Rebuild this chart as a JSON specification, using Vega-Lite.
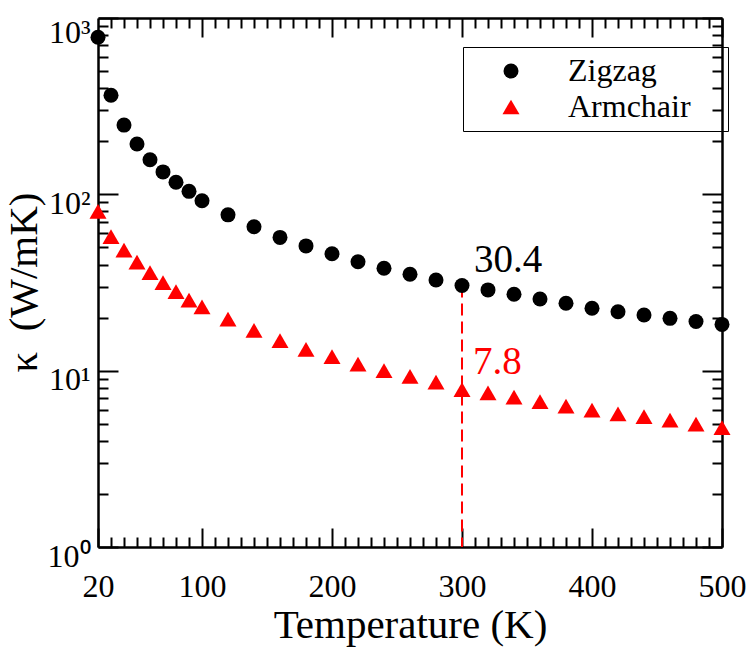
{
  "$schema": "https://vega.github.io/schema/vega-lite/v6.json",
  "width": 624,
  "height": 529,
  "autosize": "none",
  "padding": {"left": 98, "top": 18, "right": 26, "bottom": 107},
  "config": {
    "view": {"stroke": null},
    "font": "Liberation Serif",
    "axis": {
      "grid": false,
      "domainColor": "black",
      "tickColor": "black",
      "labelColor": "black",
      "titleColor": "black",
      "labelFont": "Liberation Serif",
      "titleFont": "Liberation Serif",
      "titleFontWeight": "normal",
      "labelFontSize": 32,
      "titleFontSize": 41,
      "tickWidth": 2,
      "domainWidth": 2.5,
      "labelFlush": false,
      "labelOverlap": false
    }
  },
  "datasets": {
    "main": [
      {"T": 20, "k": 778, "series": "Zigzag"},
      {"T": 30, "k": 365, "series": "Zigzag"},
      {"T": 40, "k": 247, "series": "Zigzag"},
      {"T": 50, "k": 193, "series": "Zigzag"},
      {"T": 60, "k": 157, "series": "Zigzag"},
      {"T": 70, "k": 134, "series": "Zigzag"},
      {"T": 80, "k": 117, "series": "Zigzag"},
      {"T": 90, "k": 104, "series": "Zigzag"},
      {"T": 100, "k": 92, "series": "Zigzag"},
      {"T": 120, "k": 76.5, "series": "Zigzag"},
      {"T": 140, "k": 65.5, "series": "Zigzag"},
      {"T": 160, "k": 57, "series": "Zigzag"},
      {"T": 180, "k": 51, "series": "Zigzag"},
      {"T": 200, "k": 46, "series": "Zigzag"},
      {"T": 220, "k": 41.5, "series": "Zigzag"},
      {"T": 240, "k": 38.1, "series": "Zigzag"},
      {"T": 260, "k": 35.2, "series": "Zigzag"},
      {"T": 280, "k": 32.7, "series": "Zigzag"},
      {"T": 300, "k": 30.4, "series": "Zigzag"},
      {"T": 320, "k": 28.7, "series": "Zigzag"},
      {"T": 340, "k": 27.1, "series": "Zigzag"},
      {"T": 360, "k": 25.5, "series": "Zigzag"},
      {"T": 380, "k": 24.1, "series": "Zigzag"},
      {"T": 400, "k": 22.6, "series": "Zigzag"},
      {"T": 420, "k": 21.6, "series": "Zigzag"},
      {"T": 440, "k": 20.7, "series": "Zigzag"},
      {"T": 460, "k": 19.8, "series": "Zigzag"},
      {"T": 480, "k": 19.0, "series": "Zigzag"},
      {"T": 500, "k": 18.3, "series": "Zigzag"},
      {"T": 20, "k": 80, "series": "Armchair"},
      {"T": 30, "k": 57.6, "series": "Armchair"},
      {"T": 40, "k": 48.3, "series": "Armchair"},
      {"T": 50, "k": 41.3, "series": "Armchair"},
      {"T": 60, "k": 36, "series": "Armchair"},
      {"T": 70, "k": 31.6, "series": "Armchair"},
      {"T": 80, "k": 28.1, "series": "Armchair"},
      {"T": 90, "k": 25.1, "series": "Armchair"},
      {"T": 100, "k": 23.0, "series": "Armchair"},
      {"T": 120, "k": 19.6, "series": "Armchair"},
      {"T": 140, "k": 16.9, "series": "Armchair"},
      {"T": 160, "k": 14.8, "series": "Armchair"},
      {"T": 180, "k": 13.2, "series": "Armchair"},
      {"T": 200, "k": 12.0, "series": "Armchair"},
      {"T": 220, "k": 10.9, "series": "Armchair"},
      {"T": 240, "k": 10.0, "series": "Armchair"},
      {"T": 260, "k": 9.27, "series": "Armchair"},
      {"T": 280, "k": 8.6, "series": "Armchair"},
      {"T": 300, "k": 7.8, "series": "Armchair"},
      {"T": 320, "k": 7.48, "series": "Armchair"},
      {"T": 340, "k": 7.07, "series": "Armchair"},
      {"T": 360, "k": 6.67, "series": "Armchair"},
      {"T": 380, "k": 6.3, "series": "Armchair"},
      {"T": 400, "k": 5.98, "series": "Armchair"},
      {"T": 420, "k": 5.68, "series": "Armchair"},
      {"T": 440, "k": 5.48, "series": "Armchair"},
      {"T": 460, "k": 5.25, "series": "Armchair"},
      {"T": 480, "k": 4.98, "series": "Armchair"},
      {"T": 500, "k": 4.75, "series": "Armchair"}
    ]
  },
  "layer": [
    {
      "data": {"values": [{"T": 300, "k": 30.4, "k2": 1}]},
      "mark": {"type": "rule", "color": "red", "strokeWidth": 2, "strokeDash": [12, 6]},
      "encoding": {
        "x": {"field": "T", "type": "quantitative", "scale": {"domain": [20, 500], "nice": false, "zero": false},
          "axis": {"orient": "bottom", "values": [30,40,50,60,70,80,90,110,120,130,140,150,160,170,180,190,210,220,230,240,250,260,270,280,290,310,320,330,340,350,360,370,380,390,410,420,430,440,450,460,470,480,490], "tickSize": -10, "labels": false, "domain": false, "title": null}},
        "y": {"field": "k", "type": "quantitative", "scale": {"type": "log", "domain": [1, 1000], "nice": false},
          "axis": {"orient": "left", "values": [2,3,4,5,6,7,8,9,20,30,40,50,60,70,80,90,200,300,400,500,600,700,800,900], "tickSize": -10, "labels": false, "domain": false, "title": null}},
        "y2": {"field": "k2"}
      }
    },
    {
      "data": {"name": "main"},
      "mark": {"type": "point", "filled": true, "opacity": 1},
      "encoding": {
        "x": {"field": "T", "type": "quantitative", "scale": {"domain": [20, 500], "nice": false, "zero": false},
          "axis": {"orient": "bottom", "values": [20, 100, 200, 300, 400, 500], "tickSize": -19, "labelPadding": 43, "labelFont": "Liberation Serif", "titleFont": "Liberation Serif", "title": "Temperature (K)", "titleX": 312, "titleY": 90, "titleBaseline": "alphabetic", "titleAlign": "center"}},
        "y": {"field": "k", "type": "quantitative", "scale": {"type": "log", "domain": [1, 1000], "nice": false},
          "axis": {"orient": "left", "values": [1, 10, 100, 1000], "tickSize": -20, "labelPadding": 28, "labelFont": "Liberation Serif", "titleFont": "Liberation Serif",
            "labelOffset": {"condition": {"test": "datum.value == 1000", "value": 14}, "value": 9},
            "labelBaseline": "middle",
            "labelExpr": "datum.value == 1 ? '10⁰' : datum.value == 10 ? '10¹' : datum.value == 100 ? '10²' : '10³'",
            "title": "κ\u00a0\u00a0(W/mK)", "titleAngle": -90, "titleX": -62, "titleY": 264, "titleBaseline": "alphabetic", "titleAlign": "center"}},
        "color": {"field": "series", "type": "nominal",
          "scale": {"domain": ["Zigzag", "Armchair"], "range": ["black", "red"]},
          "legend": {"title": null, "orient": "none", "legendX": 365, "legendY": 29, "strokeColor": "black", "padding": 8, "symbolOffset": 24, "labelOffset": 41, "rowPadding": 4, "labelFont": "Liberation Serif", "labelFontSize": 32, "labelColor": "black", "labelExpr": "datum.label + '\uffa0'", "encode": {"legend": {"update": {"strokeWidth": {"value": 1.5}}}}}},
        "shape": {"field": "series", "type": "nominal",
          "scale": {"domain": ["Zigzag", "Armchair"], "range": ["circle", "triangle-up"]},
          "legend": {"title": null, "orient": "none", "legendX": 365, "legendY": 29, "strokeColor": "black", "padding": 8, "symbolOffset": 24, "labelOffset": 41, "rowPadding": 4, "labelFont": "Liberation Serif", "labelFontSize": 32, "labelColor": "black", "labelExpr": "datum.label + '\uffa0'", "encode": {"legend": {"update": {"strokeWidth": {"value": 1.5}}}}}},
        "size": {"field": "series", "type": "nominal",
          "scale": {"domain": ["Zigzag", "Armchair"], "range": [225, 290]},
          "legend": {"title": null, "orient": "none", "legendX": 365, "legendY": 29, "strokeColor": "black", "padding": 8, "symbolOffset": 24, "labelOffset": 41, "rowPadding": 4, "labelFont": "Liberation Serif", "labelFontSize": 32, "labelColor": "black", "labelExpr": "datum.label + '\uffa0'", "encode": {"legend": {"update": {"strokeWidth": {"value": 1.5}}}}}}
      }
    },
    {
      "data": {"values": [{"T": 300, "k": 30.4, "lbl": "30.4"}]},
      "mark": {"type": "text", "align": "left", "baseline": "alphabetic", "dx": 12, "dy": -14, "fontSize": 39, "font": "Liberation Serif", "color": "black"},
      "encoding": {
        "x": {"field": "T", "type": "quantitative", "scale": {"domain": [20, 500], "nice": false, "zero": false},
          "axis": {"orient": "top", "values": [100, 200, 300, 400, 500], "tickSize": -19, "labels": false, "domain": true, "title": null}},
        "y": {"field": "k", "type": "quantitative", "scale": {"type": "log", "domain": [1, 1000], "nice": false},
          "axis": {"orient": "right", "values": [1, 10, 100, 1000], "tickSize": -20, "labels": false, "domain": true, "title": null}},
        "text": {"field": "lbl"}
      }
    },
    {
      "data": {"values": [{"T": 300, "k": 7.8, "lbl": "7.8"}]},
      "mark": {"type": "text", "align": "left", "baseline": "alphabetic", "dx": 11, "dy": -16, "fontSize": 39, "font": "Liberation Serif", "color": "red"},
      "encoding": {
        "x": {"field": "T", "type": "quantitative", "scale": {"domain": [20, 500], "nice": false, "zero": false},
          "axis": {"orient": "top", "values": [30,40,50,60,70,80,90,110,120,130,140,150,160,170,180,190,210,220,230,240,250,260,270,280,290,310,320,330,340,350,360,370,380,390,410,420,430,440,450,460,470,480,490], "tickSize": -10, "labels": false, "domain": false, "title": null}},
        "y": {"field": "k", "type": "quantitative", "scale": {"type": "log", "domain": [1, 1000], "nice": false},
          "axis": {"orient": "right", "values": [2,3,4,5,6,7,8,9,20,30,40,50,60,70,80,90,200,300,400,500,600,700,800,900], "tickSize": -10, "labels": false, "domain": false, "title": null}},
        "text": {"field": "lbl"}
      }
    }
  ],
  "resolve": {"axis": {"x": "independent", "y": "independent"}}
}
